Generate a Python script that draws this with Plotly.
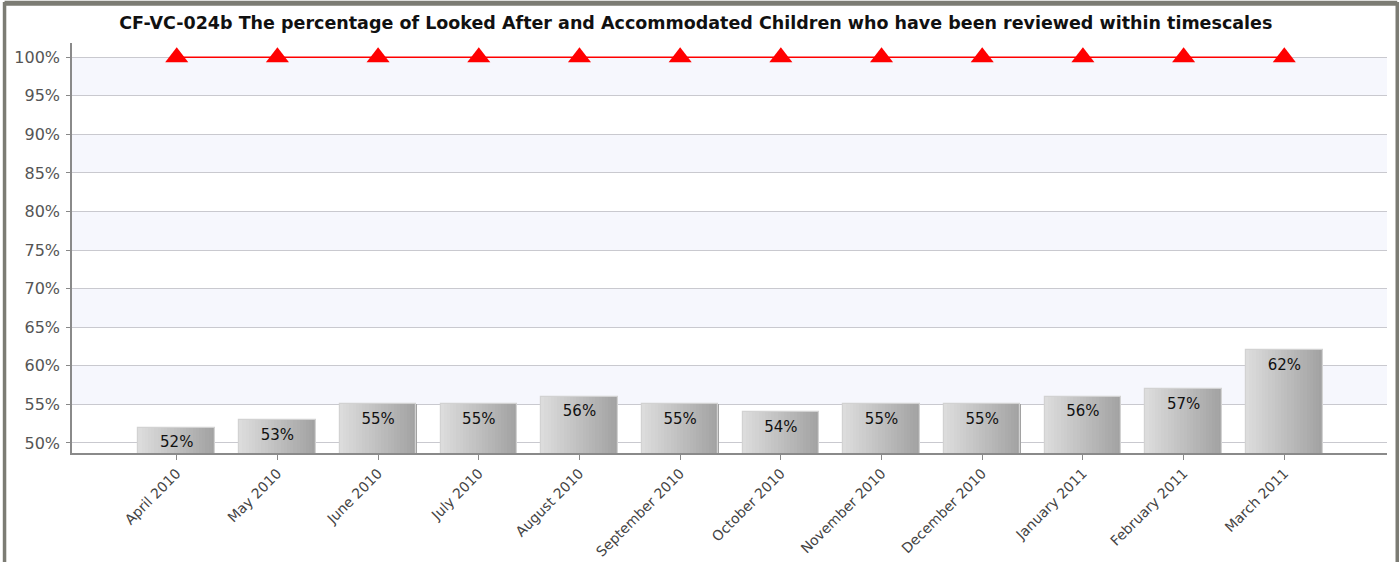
import plotly.graph_objects as go

# === Data ===
months = ["April 2010", "May 2010", "June 2010", "July 2010", "August 2010",
          "September 2010", "October 2010", "November 2010", "December 2010",
          "January 2011", "February 2011", "March 2011"]
reviewed_pct = [52, 53, 55, 55, 56, 55, 54, 55, 55, 56, 57, 62]
target_pct = [100] * 12
y_ticks = [50, 55, 60, 65, 70, 75, 80, 85, 90, 95, 100]

title = ("CF-VC-024b The percentage of Looked After and Accommodated Children "
         "who have been reviewed within timescales")

fig = go.Figure()

# === Bars with a left-to-right grey gradient (built from thin slices) ===
bar_w = 0.76
n_slices = 24
c_left = (220, 220, 220)
c_right = (162, 162, 162)
for i in range(n_slices):
    t = i / (n_slices - 1)
    col = tuple(int(round(a + (b - a) * t)) for a, b in zip(c_left, c_right))
    fig.add_trace(go.Bar(
        x=months, y=reviewed_pct,
        width=bar_w / n_slices * 1.05,
        offset=-bar_w / 2 + i * bar_w / n_slices,
        marker=dict(color="rgb(%d,%d,%d)" % col, line=dict(width=0)),
        hoverinfo="skip", showlegend=False,
    ))

# outline
fig.add_trace(go.Bar(
    x=months, y=reviewed_pct, width=bar_w,
    marker=dict(color="rgba(0,0,0,0)", line=dict(color="#d2d2d2", width=1.2)),
    showlegend=False,
))

# value labels a little under each bar top (invisible marker pushes the text down)
fig.add_trace(go.Scatter(
    x=months, y=reviewed_pct, mode="markers+text",
    marker=dict(size=12, color="rgba(0,0,0,0)"),
    text=[f"{v}%" for v in reviewed_pct], textposition="bottom center",
    textfont=dict(family="DejaVu Sans", size=15, color="#111111"),
    hoverinfo="skip", showlegend=False,
))

# === Target line ===
fig.add_trace(go.Scatter(
    x=months, y=target_pct, mode="lines+markers",
    line=dict(color="#ff0000", width=1.5),
    marker=dict(symbol="triangle-up", size=20, color="#ff0000"),
    cliponaxis=False, showlegend=False,
))

# === Alternating background bands ===
shapes = []
for lo in [55, 65, 75, 85, 95]:
    shapes.append(dict(type="rect", xref="paper", yref="y", x0=0, x1=1, y0=lo, y1=lo + 5,
                       fillcolor="#f6f7fd", line=dict(width=0), layer="below"))

# outer frame (left, top, right)
frame = dict(color="#7c7c74", width=3.5)
shapes.append(dict(type="line", xref="paper", yref="paper", x0=-0.0513, x1=-0.0513,
                   y0=-0.3, y1=1.1, line=frame))
shapes.append(dict(type="line", xref="paper", yref="paper", x0=-0.0513, x1=1.0078,
                   y0=1.097, y1=1.097, line=dict(color="#7c7c74", width=5)))
shapes.append(dict(type="line", xref="paper", yref="paper", x0=1.0078, x1=1.0078,
                   y0=-0.3, y1=1.1, line=frame))

fig.update_layout(
    width=1400, height=562,
    margin=dict(l=72, r=13, t=43, b=109),
    paper_bgcolor="white", plot_bgcolor="white",
    barmode="overlay", bargap=0,
    shapes=shapes,
    title=dict(text="<b>" + title + "</b>", x=0.497, xanchor="center", y=0.959, yanchor="middle",
               font=dict(family="DejaVu Sans", size=17.5, color="#111111")),
    font=dict(family="DejaVu Sans"),
)

fig.update_xaxes(
    type="category", range=[-1.04, 12.02], automargin=False,
    tickangle=-45, ticks="outside", ticklen=5, tickcolor="#888888",
    tickfont=dict(family="DejaVu Sans", size=14, color="#444444"),
    showline=True, linecolor="#8a8a8a", linewidth=1.5,
    showgrid=False,
)
fig.update_yaxes(
    range=[48.7, 101.85], automargin=False,
    tickvals=y_ticks, ticktext=[f"{v}%" for v in y_ticks],
    ticks="outside", ticklen=4, tickcolor="#888888", ticklabelstandoff=3,
    tickfont=dict(family="DejaVu Sans", size=16, color="#555555"),
    showline=True, linecolor="#8a8a8a", linewidth=1.5,
    gridcolor="#c9c9cf", gridwidth=1, zeroline=False,
)

# remove the default page margin and scrollbars so the chart sits at the window's corner
fig.write_html("out.html", config={"displayModeBar": False},
               post_script="document.body.style.margin='0';document.body.style.overflow='hidden';window.scrollTo(0,0);")
